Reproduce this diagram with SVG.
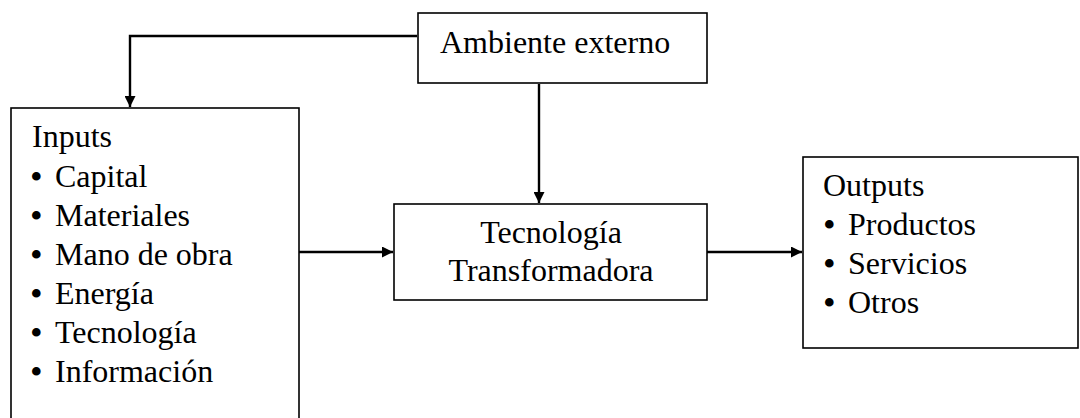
<svg xmlns="http://www.w3.org/2000/svg" width="1080" height="418" viewBox="0 0 1080 418">
<style>
.box{fill:#fff;stroke:#000;stroke-width:1.6}
.t{font-family:"Liberation Serif","Times New Roman",serif;font-size:32px;fill:#000}
.con{fill:none;stroke:#000;stroke-width:2.4}
.b{font-size:36px}
</style>
<defs>
<marker id="ah" viewBox="0 0 10 10" refX="10" refY="5" markerWidth="11" markerHeight="11" markerUnits="userSpaceOnUse" orient="auto">
<path d="M0,0 L10,5 L0,10 Z" fill="#000"/>
</marker>
</defs>
<g id="ambiente">
<rect class="box" x="418" y="13" width="289" height="70"/>
<text class="t" x="440" y="53">Ambiente externo</text>
</g>
<g id="inputs">
<rect class="box" x="11" y="108" width="288" height="330"/>
<text class="t" x="32" y="147">Inputs</text>
<text class="t" x="30" y="189"><tspan class="b">•</tspan><tspan x="55" y="187">Capital</tspan></text>
<text class="t" x="30" y="228"><tspan class="b">•</tspan><tspan x="55" y="226">Materiales</tspan></text>
<text class="t" x="30" y="267"><tspan class="b">•</tspan><tspan x="55" y="265">Mano de obra</tspan></text>
<text class="t" x="30" y="306"><tspan class="b">•</tspan><tspan x="55" y="304">Energía</tspan></text>
<text class="t" x="30" y="345"><tspan class="b">•</tspan><tspan x="55" y="343">Tecnología</tspan></text>
<text class="t" x="30" y="384"><tspan class="b">•</tspan><tspan x="55" y="382">Información</tspan></text>
</g>
<g id="tecnologia">
<rect class="box" x="394" y="204" width="313" height="96"/>
<text class="t" x="551" y="243" text-anchor="middle">Tecnología</text>
<text class="t" x="551" y="281" text-anchor="middle">Transformadora</text>
</g>
<g id="outputs">
<rect class="box" x="803" y="157" width="275" height="191"/>
<text class="t" x="823" y="196">Outputs</text>
<text class="t" x="823" y="237"><tspan class="b">•</tspan><tspan x="848" y="235">Productos</tspan></text>
<text class="t" x="823" y="276"><tspan class="b">•</tspan><tspan x="848" y="274">Servicios</tspan></text>
<text class="t" x="823" y="315"><tspan class="b">•</tspan><tspan x="848" y="313">Otros</tspan></text>
</g>
<g id="connectors">
<path class="con" d="M417,36 H130 V107" marker-end="url(#ah)"/>
<path class="con" d="M539,84 V203" marker-end="url(#ah)"/>
<path class="con" d="M299,252 H393" marker-end="url(#ah)"/>
<path class="con" d="M707,252 H802" marker-end="url(#ah)"/>
</g>
</svg>
